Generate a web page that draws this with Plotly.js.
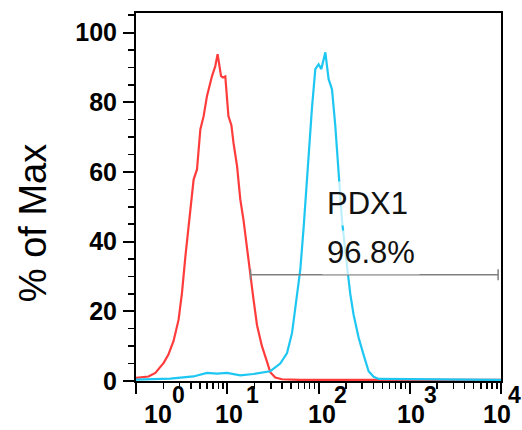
<!DOCTYPE html>
<html>
<head>
<meta charset="utf-8">
<script src="https://cdn.plot.ly/plotly-3.0.1.min.js"></script>
<style>html,body{margin:0;padding:0;background:#fff;}#chart{width:522px;height:430px;}</style>
</head>
<body>
<div id="chart"></div>
<script>
// ---- data ----
const redX = [1.0, 1.37, 1.63, 2.01, 2.26, 2.58, 2.93, 3.19, 3.47, 3.77, 4.11, 4.28, 4.66, 4.85, 5.07, 5.51, 6.0, 6.81, 7.4, 7.84, 8.55, 8.98, 9.52, 10.3, 11.1, 11.7, 12.8, 13.9, 15.1, 16.5, 17.9, 19.4, 21.2, 24.0, 27.3, 29.6, 33.6, 39.8, 63, 452, 10000];
const redY = [0.9, 1.3, 2.3, 5.2, 7.5, 11.5, 17.6, 25.3, 35.5, 44.4, 54.0, 57.8, 60.7, 65.5, 72.2, 76.0, 81.8, 87.5, 90.4, 93.8, 87.5, 87.1, 87.4, 76.0, 73.4, 68.4, 61.7, 52.1, 46.0, 38.0, 30.1, 23.4, 16.0, 10.0, 5.5, 2.5, 1.0, 0.5, 0.3, 0.3, 0.3];

const blueX = [1.0, 2.38, 4.25, 6.0, 7.72, 9.94, 13.9, 19.3, 29.6, 38.1, 45.2, 51.3, 55.7, 63.2, 68.7, 73.5, 77.9, 84.9, 92.3, 100.3, 107.4, 118.8, 129.1, 140.6, 152.8, 166.1, 181.0, 205.3, 222.9, 242.5, 275, 312, 354, 402, 456, 10000];
const blueY = [0.4, 0.7, 1.3, 2.3, 2.1, 2.3, 1.6, 2.0, 2.8, 5.0, 8.0, 13.8, 21.0, 32.0, 44.0, 55.0, 66.0, 78.5, 89.5, 90.9, 89.5, 94.3, 86.6, 83.7, 73.2, 60.0, 46.0, 33.0, 25.0, 19.0, 12.5, 7.5, 2.8, 1.2, 0.6, 0.3];

const gateX = [18, 9300];
const gateY = 30.5;
const gateLabel = "PDX1";
const gatePercent = "96.8%";

const decadeVals = [1, 10, 100, 1000, 10000];
const decadeBase = ["10", "10", "10", "10", "10"];
const decadeExp = ["0", "1", "2", "3", "4"];
const yTickVals = [0, 20, 40, 60, 80, 100];
const yTitle = "% of Max";

// ---- layout helpers (positions / styles) ----
const baseShift = [22, 2, 3, 1, -4];
const expShift = [42, 25, 22, 21, 13];
const FONT = "Liberation Sans, Arial, sans-serif";

const minorX = [];
for (let d = 0; d < 4; d++) {
  for (let m = 2; m <= 9; m++) minorX.push(m * Math.pow(10, d));
}
const minorY = [];
for (let v = 5; v <= 105; v += 5) if (v % 20 !== 0) minorY.push(v);

const annotations = [];
decadeVals.forEach((v, i) => {
  annotations.push({
    x: Math.log10(v), xref: 'x', y: 0, yref: 'paper',
    text: decadeBase[i], showarrow: false, xanchor: 'center', yanchor: 'middle',
    xshift: baseShift[i], yshift: -33,
    font: {family: FONT, size: 25, color: '#000', weight: 'bold'}
  });
  annotations.push({
    x: Math.log10(v), xref: 'x', y: 0, yref: 'paper',
    text: decadeExp[i], showarrow: false, xanchor: 'center', yanchor: 'middle',
    xshift: expShift[i], yshift: -14,
    font: {family: FONT, size: 23, color: '#000', weight: 'bold'}
  });
});
annotations.push({
  x: 0, xref: 'paper', xshift: -103, y: 0.429, yref: 'paper', text: yTitle,
  textangle: -90, showarrow: false, xanchor: 'center', yanchor: 'middle',
  font: {family: FONT, size: 38, color: '#000'}
});
annotations.push({
  x: 2.04, xref: 'x', y: 50.8, yref: 'y', text: gateLabel, showarrow: false,
  xanchor: 'left', yanchor: 'middle', bgcolor: 'rgba(255,255,255,0.7)', borderpad: 4,
  font: {family: FONT, size: 31, color: '#111'}
});
annotations.push({
  x: 2.04, xref: 'x', y: 37.0, yref: 'y', text: gatePercent, showarrow: false,
  xanchor: 'left', yanchor: 'middle', bgcolor: 'rgba(255,255,255,0.7)', borderpad: 4,
  font: {family: FONT, size: 31, color: '#111'}
});

const gateColor = '#808080';
const shapes = [
  {type: 'line', xref: 'x', yref: 'y', x0: gateX[0], x1: gateX[1], y0: gateY, y1: gateY, line: {color: gateColor, width: 1.5}},
  {type: 'line', xref: 'x', yref: 'y', x0: gateX[0], x1: gateX[0], y0: gateY - 1.6, y1: gateY + 1.6, line: {color: gateColor, width: 1.5}},
  {type: 'line', xref: 'x', yref: 'y', x0: gateX[1], x1: gateX[1], y0: gateY - 1.6, y1: gateY + 1.6, line: {color: gateColor, width: 1.5}}
];

const traces = [
  {x: redX, y: redY, type: 'scatter', mode: 'lines', line: {color: '#ff3c3c', width: 2.2}, hoverinfo: 'skip'},
  {x: blueX, y: blueY, type: 'scatter', mode: 'lines', line: {color: '#1ec6f2', width: 2.2}, hoverinfo: 'skip'}
];

const layout = {
  width: 522, height: 430,
  margin: {l: 136, r: 21, t: 13, b: 49, pad: 0},
  paper_bgcolor: '#fff', plot_bgcolor: '#fff',
  showlegend: false,
  xaxis: {
    type: 'log', range: [0, 4], tickmode: 'array', tickvals: decadeVals,
    showticklabels: false, ticks: 'outside', ticklen: 11, tickwidth: 2, tickcolor: '#000',
    showgrid: false, zeroline: false, showline: true, linecolor: '#000', linewidth: 2, mirror: true,
    minor: {tickmode: 'array', tickvals: minorX, ticks: 'outside', ticklen: 6, tickwidth: 1.5, tickcolor: '#000', showgrid: false}
  },
  yaxis: {
    range: [0, 105.6], tickmode: 'array', tickvals: yTickVals,
    ticks: 'outside', ticklen: 11, tickwidth: 2, tickcolor: '#000',
    ticklabelstandoff: 1,
    tickfont: {family: FONT, size: 25, color: '#000', weight: 'bold'},
    showgrid: false, zeroline: false, showline: true, linecolor: '#000', linewidth: 2, mirror: true,
    minor: {tickmode: 'array', tickvals: minorY, ticks: 'outside', ticklen: 6, tickwidth: 1.5, tickcolor: '#000', showgrid: false}
  },
  annotations: annotations,
  shapes: shapes
};

Plotly.newPlot('chart', traces, layout, {staticPlot: true, displayModeBar: false});
</script>
</body>
</html>
